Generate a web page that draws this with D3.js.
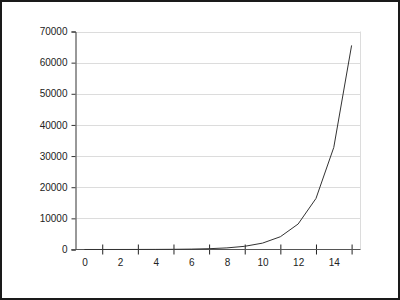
<!DOCTYPE html>
<html>
<head>
<meta charset="utf-8">
<script src="https://cdn.jsdelivr.net/npm/d3@7"></script>
<style>
body { margin: 0; background: #fff; }
#chart svg { display: block; }
text { font-family: "Liberation Sans", Arial, sans-serif; font-size: 10px; fill: #222; }
</style>
</head>
<body>
<div id="chart"></div>
<script>
var categories = [0, 1, 2, 3, 4, 5, 6, 7, 8, 9, 10, 11, 12, 13, 14, 15];
var values = [2, 4, 8, 16, 32, 64, 128, 256, 512, 1024, 2048, 4096, 8192, 16384, 32768, 65536];
var yTicks = [0, 10000, 20000, 30000, 40000, 50000, 60000, 70000];
var xLabels = [0, 2, 4, 6, 8, 10, 12, 14];
var xTickMarks = [1, 3, 5, 7, 9, 11, 13, 15];

function init(){

var w = 400;
var h = 300;
var left = 75.5, right = 360.5, top = 31.5, bottom = 249.5;

let svg = d3.select("#chart")
            .append("svg")
            .attr("width", w)
            .attr("height", h);

// outer frame
svg.append("rect")
    .attr("x", 1).attr("y", 1)
    .attr("width", w - 2).attr("height", h - 2)
    .attr("fill", "none")
    .attr("stroke", "#1a1a1a")
    .attr("stroke-width", 2);

var x = d3.scalePoint()
    .domain(categories)
    .range([left, right])
    .padding(0.5);

var y = d3.scaleLinear()
    .domain([0, 70000])
    .range([bottom, top]);

// gridlines
svg.append("g")
    .selectAll("line")
    .data(yTicks.slice(1))
    .enter()
    .append("line")
    .attr("x1", left + 1)
    .attr("x2", right)
    .attr("y1", function(d){ return Math.round(y(d)) + 0.5; })
    .attr("y2", function(d){ return Math.round(y(d)) + 0.5; })
    .attr("stroke", "#dcdcdc");

// right border of plot
svg.append("line")
    .attr("x1", right).attr("x2", right)
    .attr("y1", top).attr("y2", bottom)
    .attr("stroke", "#dcdcdc");

// y axis
var yAxis = svg.append("g")
    .attr("transform", "translate(" + left + ",0)")
    .call(d3.axisLeft(y).tickValues(yTicks).tickSize(4).tickPadding(4).tickFormat(d3.format("d")));
yAxis.select(".domain").attr("stroke", "#333");
yAxis.selectAll(".tick line").attr("stroke", "#333");
yAxis.selectAll("text").attr("fill", "#222").style("font-size", "10px");

// x axis ticks (crossing)
var xAxis = svg.append("g")
    .attr("transform", "translate(0," + bottom + ")")
    .call(d3.axisBottom(x).tickValues(xTickMarks).tickSize(5).tickFormat(""));
xAxis.select(".domain").remove();
xAxis.selectAll(".tick line").attr("y1", -5).attr("stroke", "#222");

svg.append("line")
    .attr("x1", left - 4).attr("x2", right)
    .attr("y1", bottom).attr("y2", bottom)
    .attr("stroke", "#555");

// x labels
var xLab = svg.append("g")
    .attr("transform", "translate(0," + bottom + ")")
    .call(d3.axisBottom(x).tickValues(xLabels).tickSize(0).tickPadding(9));
xLab.select(".domain").remove();
xLab.selectAll("text").attr("fill", "#222").style("font-size", "10px");

// line
svg.append("path")
    .datum(values)
    .attr("fill", "none")
    .attr("stroke", "#333")
    .attr("stroke-width", 1)
    .attr("d", d3.line()
        .x(function(d, i){ return x(categories[i]); })
        .y(function(d){ return y(d); }));

}

window.onload = init;
</script>
</body>
</html>
